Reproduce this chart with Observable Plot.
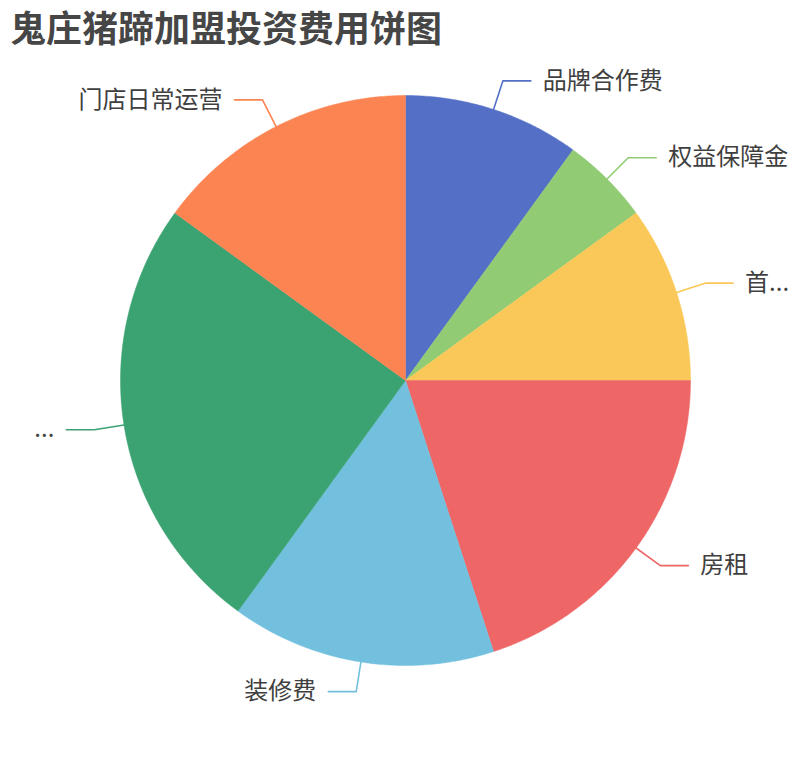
<!DOCTYPE html>
<html><head><meta charset="utf-8">
<script src="https://cdn.jsdelivr.net/npm/d3@7"></script>
<script src="https://cdn.jsdelivr.net/npm/@observablehq/plot@0.6"></script>
<style>
body{margin:0;background:#fff;font-family:"Noto Sans CJK SC","Noto Sans",sans-serif;}
#title{height:52px;line-height:52px;padding-left:10px;font-size:36px;font-weight:bold;color:#464646;white-space:nowrap;}
</style></head><body>
<div id="title"></div>
<div id="chart"></div>
<script>
const title = "鬼庄猪蹄加盟投资费用饼图";
const names = ["品牌合作费", "权益保障金", "首...", "房租", "装修费", "...", "门店日常运营"];
const values = [10, 5, 10, 20, 15, 25, 15];
const colors = ["#5470c6", "#91cc75", "#fac858", "#ee6666", "#73c0de", "#3ba272", "#fc8452"];

document.getElementById("title").textContent = title;

const W = 810, H = 708, R = 285, CX = 405, CY = 328;
const rows = names.map((name, i) => ({name, value: values[i]}));
const arcs = d3.pie().sort(null).value(d => d.value)(rows);

const slices = [];
const leaders = [];
const labels = [];
const elbowR = 1 + 30 / R, horiz = 28 / R;
arcs.forEach(a => {
  const name = a.data.name;
  slices.push({name, x: 0, y: 0});
  const n = Math.max(2, Math.ceil((a.endAngle - a.startAngle) / (Math.PI / 360)));
  for (let k = 0; k <= n; k++) {
    const t = a.startAngle + (a.endAngle - a.startAngle) * k / n;
    slices.push({name, x: Math.sin(t), y: Math.cos(t)});
  }
  slices.push({name, x: 0, y: 0});
  const m = (a.startAngle + a.endAngle) / 2;
  const right = Math.sin(m) >= 0;
  const ex = elbowR * Math.sin(m), ey = elbowR * Math.cos(m);
  const endx = ex + (right ? horiz : -horiz);
  leaders.push({name, x: Math.sin(m), y: Math.cos(m)});
  leaders.push({name, x: ex, y: ey});
  leaders.push({name, x: endx, y: ey});
  labels.push({name, x: endx, y: ey, right});
});

const chart = Plot.plot({
  width: W, height: H,
  margin: 0,
  style: {background: "#fff", fontFamily: '"Noto Sans CJK SC","Noto Sans",sans-serif'},
  x: {domain: [-1, 1], range: [CX - R, CX + R], axis: null},
  y: {domain: [-1, 1], range: [CY + R, CY - R], axis: null},
  color: {domain: names, range: colors},
  marks: [
    Plot.line(slices, {x: "x", y: "y", z: "name", fill: "name", stroke: "name", strokeWidth: 0.5, curve: "linear"}),
    Plot.line(leaders, {x: "x", y: "y", z: "name", stroke: "name", strokeWidth: 1.6, curve: "linear"}),
    Plot.text(labels.filter(d => d.right), {x: "x", y: "y", text: "name", textAnchor: "start", dx: 12, fontSize: 24, fill: "#3f3f3f"}),
    Plot.text(labels.filter(d => !d.right), {x: "x", y: "y", text: "name", textAnchor: "end", dx: -12, fontSize: 24, fill: "#3f3f3f"})
  ]
});
document.getElementById("chart").appendChild(chart);
</script>
</body></html>
